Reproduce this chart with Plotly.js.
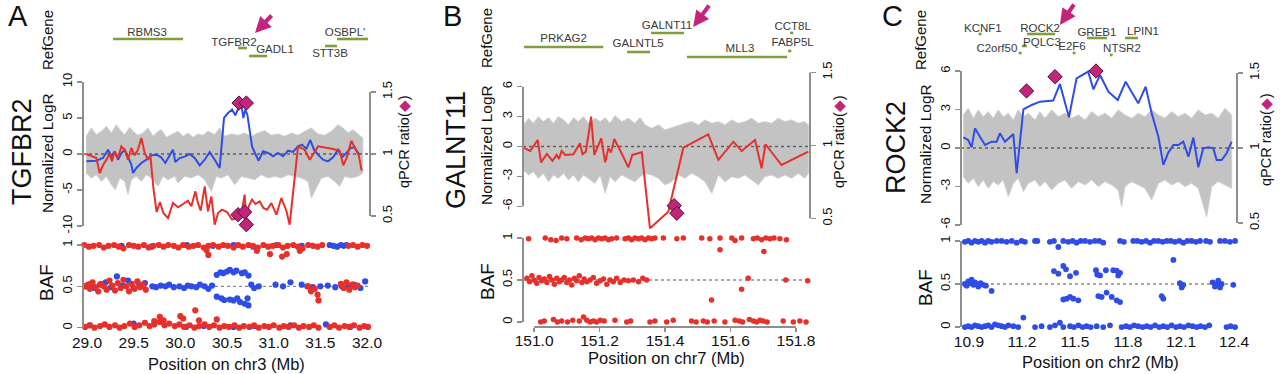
<!DOCTYPE html>
<html><head><meta charset="utf-8">
<script src="https://cdn.plot.ly/plotly-3.0.1.min.js"></script>
<style>html,body{margin:0;padding:0;background:#fff}#chart{width:1280px;height:374px}</style>
</head><body><div id="chart"></div>
<script>
// ===================== PANEL A : TGFBR2, chr3 =====================
const A_geneNames = ['RBMS3','TGFBR2','GADL1',"OSBPL'",'STT3B'];
const A_geneStart = [29.279,30.618,30.736,31.679,31.55];
const A_geneEnd   = [30.029,30.714,30.929,32.011,31.679];
const A_geneRow   = [3.9,4.8,5.6,3.9,4.6];
const A_labelX    = [29.643,30.575,31.014,31.764,31.604];
const A_labelRow  = [3.3,4.3,5.0,3.3,5.4];
const A_xTicks = [29.0,29.5,30.0,30.5,31.0,31.5,32.0];
const A_xTickText = ['29.0','29.5','30.0','30.5','31.0','31.5','32.0'];
const A_logTicks = [-10,-5,0,5,10];
const A_bandUpX = [28.99,29.046,29.1,29.154,29.207,29.261,29.314,29.35,29.404,29.457,29.493,29.546,29.6,29.654,29.707,29.761,29.796,29.85,29.904,29.975,30.029,30.082,30.136,30.189,30.243,30.296,30.368,30.421,30.475,30.546,30.618,30.689,30.761,30.832,30.904,30.975,31.046,31.118,31.189,31.261,31.332,31.404,31.475,31.546,31.618,31.689,31.743,31.796,31.85,31.921,31.955];
const A_bandUpY = [2.45,3.61,2.69,3.15,3.84,2.92,4.07,3.38,2.69,3.7,3.15,2.59,2.92,3.61,2.45,3.15,3.38,2.31,2.69,3.15,2.45,2.92,2.31,2.78,2.59,3.15,2.69,3.61,2.45,2.78,2.59,2.92,2.45,2.92,3.24,2.59,2.78,2.45,2.92,2.59,3.15,3.61,2.78,2.59,3.15,4.07,3.61,2.92,3.38,2.59,2.22];
const A_bandLoX = [28.99,29.046,29.1,29.154,29.207,29.261,29.304,29.35,29.404,29.439,29.475,29.529,29.582,29.636,29.689,29.761,29.814,29.868,29.939,29.975,30.046,30.118,30.189,30.261,30.332,30.386,30.439,30.511,30.582,30.654,30.725,30.796,30.868,30.939,31.011,31.082,31.154,31.225,31.296,31.368,31.404,31.457,31.511,31.582,31.654,31.707,31.761,31.832,31.904,31.955];
const A_bandLoY = [-2.64,-3.33,-2.87,-3.8,-3.1,-4.26,-4.95,-3.33,-3.8,-5.65,-3.56,-3.1,-3.8,-2.87,-3.33,-4.49,-3.1,-3.56,-3.1,-4.03,-3.1,-3.33,-2.87,-3.56,-5.19,-3.1,-3.33,-2.87,-4.26,-3.1,-3.33,-3.56,-2.87,-3.33,-3.1,-3.33,-2.87,-3.1,-3.33,-3.8,-6.11,-4.72,-3.33,-3.1,-3.8,-4.49,-3.1,-3.33,-3.1,-2.64];
const A_blueX = [28.993,29.1,29.171,29.225,29.261,29.296,29.332,29.368,29.404,29.439,29.475,29.493,29.529,29.582,29.636,29.689,29.743,29.796,29.839,29.886,29.921,29.946,29.993,30.046,30.1,30.154,30.207,30.261,30.314,30.368,30.421,30.468,30.511,30.554,30.589,30.625,30.654,30.675,30.696,30.718,30.743,30.768,30.804,30.839,30.886,30.939,30.993,31.046,31.1,31.154,31.207,31.261,31.304,31.35,31.393,31.432,31.482,31.529,31.582,31.636,31.689,31.732,31.779,31.825,31.868,31.921];
const A_blueY = [-1.02,-0.93,-0.56,0.6,-0.32,0.37,-0.79,0.14,0.6,-0.32,-1.48,-2.64,-1.94,-1.25,-0.79,-0.19,-0.09,-0.46,-1.25,-0.19,0.6,-1.11,-0.56,-0.37,0,-0.56,-1.57,-0.79,0.28,-0.79,-1.94,5.0,5.69,6.16,5.37,6.48,6.94,5.0,6.16,5.46,3.15,1.06,0,-0.93,0.37,0.14,-0.32,0.14,-0.32,0.46,0.28,1.06,1.3,0.74,1.94,0.6,-0.19,-0.79,-1.02,-0.46,0.6,-0.46,0.14,0.83,0.93,-0.19];
const A_redX = [28.993,29.046,29.1,29.136,29.171,29.207,29.243,29.268,29.296,29.332,29.368,29.404,29.439,29.475,29.511,29.546,29.582,29.618,29.654,29.679,29.711,29.746,29.782,29.818,29.868,29.921,29.975,30.029,30.082,30.118,30.161,30.189,30.218,30.261,30.296,30.332,30.368,30.404,30.446,30.5,30.554,30.607,30.654,30.689,30.707,30.732,30.768,30.804,30.85,30.889,30.929,30.975,31.029,31.082,31.136,31.171,31.261,31.332,31.386,31.421,31.475,31.636,31.707,31.746,31.782,31.832,31.875,31.911,31.943];
const A_redY = [0,-0.32,-0.56,-2.64,-1.57,-0.79,0,-1.02,0.37,-0.56,1.06,0.6,-0.79,0.83,-0.19,0.6,2.22,0.14,-0.79,-0.19,-4.72,-8.06,-6.67,-8.19,-8.89,-6.81,-7.41,-6.94,-6.48,-7.27,-5.19,-6.81,-7.87,-4.49,-7.96,-5.88,-9.81,-8.19,-7.73,-8.06,-9.12,-8.89,-8.33,-5.65,-8.89,-7.27,-6.34,-6.94,-6.57,-7.5,-7.73,-6.81,-8.43,-6.11,-7.87,-9.81,1.06,0.6,-0.79,-0.09,1.06,0.69,0.46,-1.57,-0.56,1.85,0.6,-0.19,-2.31];
const A_qpcrX = [30.629,30.707,30.618,30.689,30.707];
const A_qpcrY = [1.411,1.411,0.511,0.532,0.43];
// BAF, panel A
const A_bafRedX = [28.97,29.02,29.07,29.13,29.18,29.23,29.29,29.34,29.39,29.45,29.5,29.55,29.61,29.66,29.71,29.77,29.82,29.87,29.93,29.98,30.03,30.09,30.14,30.19,30.25,30.3,30.35,30.41,30.46,30.51,30.57,30.62,30.67,30.73,30.78,30.83,30.89,30.94,30.99,31.05,31.1,31.15,31.21,31.26,31.31,31.37,31.42,31.47,31.52,31.8,31.85,31.9,31.95,32.0,
  30.28,30.3,30.82,30.96,31.09,31.14,31.28,
  28.98,29.01,29.03,29.06,29.09,29.12,29.15,29.18,29.21,29.24,29.27,29.3,29.33,29.36,29.39,29.42,29.45,29.48,29.51,29.54,29.57,29.6,29.63,31.37,31.4,31.44,31.47,31.48,31.72,31.75,31.78,31.81,31.84,31.87,31.9,
  28.98,29.03,29.08,29.14,29.19,29.24,29.3,29.35,29.4,29.46,29.51,29.56,29.62,29.67,29.72,29.78,29.83,29.88,29.94,29.99,30.04,30.1,30.15,30.2,30.26,30.31,30.36,30.42,30.47,30.52,30.58,30.63,30.68,30.74,30.79,30.84,30.9,30.95,31.0,31.06,31.11,31.16,31.22,31.27,31.32,31.38,31.43,31.48,31.6,31.65,31.7,31.76,31.81,31.86,31.92,31.97,32.01,
  29.78,29.82,30.0,30.03,30.16,30.2,30.39,29.72];
const A_bafRedY = [1,.98,.99,1,.97,.99,1,.98,.96,1,.99,.98,1,.97,.99,1,.98,1,.99,.97,1,.98,.99,1,.97,.99,1,.98,1,.99,.97,1,.98,1,.99,.97,1,.98,.99,1,.97,.99,1,.98,.96,1,.99,.98,1,.99,1,.98,1,.99,
  .94,.88,.93,.89,.86,.89,.93,
  .5,.52,.47,.55,.49,.44,.53,.5,.46,.57,.51,.45,.54,.48,.58,.5,.44,.53,.47,.56,.49,.52,.46,.5,.44,.47,.4,.33,.53,.48,.55,.46,.52,.49,.51,
  .01,.03,0,.02,.04,.01,.03,0,.02,.05,.01,.03,.06,.02,.04,.07,.03,.05,.02,.04,.01,.03,0,.02,.04,.01,.03,0,.02,.01,.03,0,.02,.01,.03,0,.02,.01,.03,0,.02,.01,.03,0,.02,.01,.03,0,.01,.03,0,.02,.01,.03,0,.02,.01,
  .13,.09,.14,.11,.21,.09,.1,.08];
const A_bafBlueX = [29.37,29.69,30.07,30.35,30.57,30.78,31.03,31.3,31.6,31.64,31.68,31.72,31.75,31.78,
  28.99,29.04,29.08,29.14,29.2,29.26,29.32,29.38,29.44,29.5,29.56,29.62,29.7,29.74,29.79,29.84,29.88,29.93,29.99,30.04,30.08,30.12,30.17,30.21,30.26,30.3,30.34,30.76,30.79,30.84,31.02,31.1,31.18,31.3,31.36,31.42,31.5,31.58,31.66,31.73,31.8,31.86,31.93,31.98,
  30.39,30.43,30.46,30.5,30.53,30.57,30.6,30.66,30.69,30.73,
  30.39,30.44,30.47,30.53,30.57,30.61,30.64,30.69,30.72,30.73,
  29.03,29.5,30.06,30.25,30.57,30.79,31.18,31.56,31.82];
const A_bafBlueY = [.99,.98,1,.99,1,.98,1,.99,1,.99,.98,1,.99,1,
  .5,.53,.48,.52,.55,.49,.62,.51,.57,.48,.52,.54,.5,.49,.51,.5,.52,.49,.5,.48,.51,.5,.49,.52,.5,.47,.51,.52,.48,.5,.52,.5,.55,.52,.5,.49,.5,.51,.49,.5,.5,.52,.48,.56,
  .64,.67,.66,.68,.7,.67,.69,.66,.67,.63,
  .375,.355,.335,.34,.33,.355,.31,.29,.355,.27,
  .03,.05,.01,.02,.01,.02,.03,.04,.01];

// ===================== PANEL B : GALNT11, chr7 =====================
const B_geneNames = ['PRKAG2','GALNTL5','GALNT11','MLL3','CCT8L','FABP5L'];
const B_geneStart = [150.969,151.284,151.357,151.467,151.782,151.776];
const B_geneEnd   = [151.211,151.354,151.458,151.773,151.792,151.786];
const B_geneRow   = [4.7,5.2,3.3,5.7,3.3,5.1];
const B_labelX    = [151.09,151.318,151.406,151.629,151.79,151.79];
const B_labelRow  = [3.9,4.4,2.6,4.9,2.7,4.3];
const B_xTicks = [151.0,151.2,151.4,151.6,151.8];
const B_xTickText = ['151.0','151.2','151.4','151.6','151.8'];
const B_logTicks = [-6,-3,0,3,6];
const B_bandX = [150.967,150.983,150.998,151.013,151.028,151.044,151.059,151.074,151.09,151.105,151.12,151.135,151.151,151.166,151.186,151.202,151.217,151.232,151.247,151.268,151.288,151.308,151.324,151.339,151.359,151.38,151.4,151.42,151.441,151.461,151.481,151.502,151.522,151.543,151.563,151.583,151.604,151.624,151.644,151.665,151.685,151.705,151.726,151.746,151.766,151.787,151.807,151.827,151.838];
const B_bandUpY = [2.16,2.83,2.32,2.99,2.49,2.89,2.32,2.99,2.66,2.16,2.89,2.49,2.99,2.32,2.83,2.49,2.89,2.32,3.09,2.49,2.83,2.32,2.89,2.16,1.82,2.16,1.66,1.89,2.16,2.32,2.49,2.16,2.66,2.32,2.49,2.16,2.66,2.32,2.49,2.83,2.32,2.49,2.32,2.83,2.49,2.66,2.32,2.49,2.16];
const B_bandLoY = [-2.36,-2.86,-2.53,-3.19,-2.69,-3.53,-2.86,-3.19,-2.69,-3.36,-2.86,-3.53,-2.86,-3.19,-3.7,-2.86,-4.7,-3.03,-3.53,-2.86,-3.19,-3.53,-3.03,-2.69,-2.86,-3.19,-3.86,-3.53,-2.86,-3.19,-2.69,-3.03,-3.53,-4.7,-2.86,-3.53,-3.03,-3.19,-2.86,-3.36,-3.86,-3.03,-2.86,-3.19,-2.86,-3.19,-2.69,-3.19,-2.69];
const B_redX = [150.967,150.988,151.011,151.021,151.039,151.056,151.069,151.076,151.084,151.095,151.12,151.14,151.148,151.158,151.166,151.174,151.184,151.205,151.217,151.227,151.235,151.245,151.263,151.288,151.3,151.329,151.354,151.41,151.456,151.532,151.563,151.609,151.634,151.675,151.695,151.707,151.756,151.838];
const B_redY = [-0.12,-0.45,0.65,-1.59,-0.75,-1.45,-0.85,-1.25,-0.45,-0.85,-0.79,0.32,-0.79,-0.52,1.15,2.99,-0.85,0.82,-1.59,-0.18,-0.59,0.75,-0.4,-2.1,-0.85,-0.59,-8.21,-6.54,-0.12,1.22,-1.35,0.48,-0.45,0.65,-2.19,0.22,-1.86,-0.52];
const B_qpcrX = [151.428,151.436];
const B_qpcrY = [0.588,0.536];
const B_bafRedX = [150.983,151.034,151.051,151.067,151.084,151.1,151.13,151.144,151.156,151.166,151.176,151.186,151.196,151.207,151.217,151.227,151.237,151.252,151.278,151.288,151.298,151.308,151.319,151.329,151.339,151.349,151.359,151.369,151.395,151.436,151.456,151.512,151.537,151.568,151.604,151.614,151.634,151.67,151.682,151.695,151.708,151.721,151.733,151.751,151.771,
  151.568,151.702,151.542,151.634,151.654,151.769,151.836,
  150.978,150.986,150.993,151.0,151.008,151.015,151.023,151.031,151.039,151.047,151.054,151.062,151.069,151.077,151.084,151.092,151.1,151.108,151.115,151.123,151.13,151.138,151.146,151.153,151.161,151.171,151.181,151.191,151.202,151.212,151.222,151.232,151.242,151.252,151.263,151.275,151.288,151.303,151.319,151.332,151.344,
  151.02,151.031,151.059,151.071,151.084,151.102,151.118,151.138,151.151,151.161,151.171,151.181,151.191,151.202,151.214,151.247,151.283,151.295,151.354,151.369,151.405,151.425,151.481,151.495,151.517,151.529,151.55,151.583,151.614,151.627,151.637,151.658,151.67,151.68,151.69,151.7,151.712,151.761,151.792,151.812,151.831];
const B_bafRedY = [.99,1,.98,.97,1,.99,1,.98,1,.99,1,.98,1,.99,1,.98,.99,1,.99,1,.98,1,.99,1,.98,1,.99,1,1,.99,1,1,.99,1,1,.97,1,.99,1,.98,1,.99,1,.99,.98,
  .86,.84,.26,.39,.52,.5,.49,
  .52,.48,.55,.5,.46,.53,.49,.51,.47,.54,.5,.45,.52,.48,.5,.53,.47,.5,.44,.52,.49,.55,.47,.51,.48,.5,.53,.46,.49,.51,.45,.5,.48,.52,.47,.5,.49,.5,.48,.52,.5,
  0,.01,.03,0,.01,0,.02,.01,.06,.02,0,.01,0,.02,.01,.02,0,.01,0,.01,0,.02,.01,0,.01,0,.01,0,.02,.01,0,.03,.01,0,.02,.01,0,.01,0,.01,0];

// ===================== PANEL C : ROCK2, chr2 =====================
const C_geneNames = ['KCNF1','ROCK2','C2orf50','PQLC3','E2F6','GREB1','NTSR2','LPIN1'];
const C_geneStart = [10.955,11.228,11.182,11.2,11.487,11.568,11.697,11.783];
const C_geneEnd   = [10.972,11.387,11.198,11.228,11.503,11.681,11.713,11.856];
const C_geneRow   = [3.4,3.4,5.3,4.6,5.3,3.8,5.5,3.8];
const C_labelX    = [10.979,11.302,11.058,11.313,11.483,11.624,11.766,11.885];
const C_labelRow  = [2.9,2.9,4.9,4.3,4.7,3.3,4.9,3.2];
const C_xTicks = [10.9,11.2,11.5,11.8,12.1,12.4];
const C_xTickText = ['10.9','11.2','11.5','11.8','12.1','12.4'];
const C_logTicks = [-6,-3,0,3,6];
const C_bandUpX = [10.868,10.896,10.925,10.953,10.981,11.009,11.038,11.066,11.094,11.123,11.151,11.179,11.208,11.236,11.274,11.302,11.33,11.368,11.406,11.443,11.481,11.519,11.557,11.594,11.632,11.67,11.708,11.745,11.783,11.821,11.858,11.896,11.934,11.972,12.009,12.047,12.085,12.123,12.16,12.198,12.236,12.274,12.311,12.349,12.387];
const C_bandUpY = [2.57,3.09,2.31,2.96,2.44,2.83,2.31,2.96,2.44,2.7,2.18,2.96,2.44,2.7,2.18,2.83,2.31,2.96,2.44,2.7,2.31,2.57,2.18,2.83,2.44,2.7,2.31,2.96,2.57,2.31,2.7,2.44,2.96,2.57,2.31,2.83,2.44,2.7,2.31,2.96,2.57,2.7,2.31,3.09,2.57];
const C_bandLoX = [10.868,10.896,10.925,10.953,10.981,11.009,11.038,11.066,11.094,11.123,11.151,11.179,11.208,11.236,11.274,11.302,11.33,11.368,11.406,11.443,11.481,11.519,11.557,11.594,11.632,11.67,11.708,11.745,11.764,11.783,11.821,11.858,11.896,11.934,11.972,12.009,12.047,12.085,12.123,12.16,12.198,12.245,12.274,12.311,12.349,12.387];
const C_bandLoY = [-2.23,-2.75,-2.36,-3.01,-2.49,-3.14,-2.62,-2.88,-2.49,-3.79,-2.75,-2.36,-3.4,-2.75,-2.49,-3.01,-2.62,-3.27,-2.75,-2.49,-3.14,-2.62,-2.88,-2.49,-3.01,-2.62,-2.88,-3.27,-4.57,-3.01,-2.62,-2.88,-3.14,-4.05,-2.75,-2.49,-2.88,-2.62,-3.01,-2.75,-3.14,-5.35,-3.01,-2.62,-2.88,-3.14];
const C_blueX = [10.868,10.896,10.915,10.934,10.962,10.991,11.028,11.057,11.075,11.104,11.151,11.17,11.208,11.255,11.302,11.377,11.415,11.466,11.509,11.575,11.604,11.642,11.689,11.742,11.787,11.858,11.9,11.934,11.972,12.0,12.028,12.057,12.085,12.113,12.142,12.17,12.198,12.226,12.255,12.283,12.302,12.33,12.358,12.387];
const C_blueY = [0.83,0.62,0.05,1.53,0.88,0.23,0.49,0.49,1.14,0.49,1.09,-1.97,3.01,3.35,3.61,3.69,4.99,2.39,5.43,5.95,4.57,5.69,4.39,3.74,5.17,3.48,4.78,2.7,0.88,-1.32,-0.36,0.23,0.23,0.49,-0.68,0.81,-1.51,-0.03,0.05,-0.03,-0.94,-0.94,-0.42,0.49];
const C_qpcrX = [11.226,11.387,11.619];
const C_qpcrY = [1.38,1.475,1.513];
const C_bafBlueX = [10.877,10.896,10.915,10.934,10.953,10.972,10.991,11.009,11.028,11.057,11.085,11.113,11.142,11.17,11.198,11.217,11.274,11.287,11.358,11.381,11.406,11.434,11.462,11.487,11.509,11.532,11.557,11.585,11.613,11.638,11.66,11.755,11.777,11.83,11.853,11.877,11.902,11.925,11.947,11.972,11.996,12.019,12.042,12.066,12.091,12.113,12.136,12.16,12.185,12.208,12.242,12.264,12.321,12.349,12.377,12.406,
  10.877,10.887,10.896,10.906,10.915,10.925,10.934,10.944,10.953,10.966,10.981,10.996,11.028,
  11.381,11.406,11.434,11.449,11.472,11.506,11.619,11.626,11.642,11.675,11.717,11.736,11.755,11.745,11.434,11.453,11.472,11.491,11.519,11.632,11.651,11.679,11.708,11.736,11.755,11.991,12.0,
  12.057,12.094,12.104,12.113,12.279,12.292,12.302,12.311,12.321,12.33,12.396,
  10.877,10.896,10.915,10.934,10.953,10.972,10.991,11.009,11.028,11.047,11.066,11.085,11.104,11.123,11.151,11.179,11.208,11.274,11.311,11.358,11.387,11.415,11.434,11.472,11.494,11.519,11.543,11.566,11.589,11.623,11.66,11.698,11.764,11.789,11.811,11.834,11.858,11.883,11.906,11.928,11.953,11.977,12.0,12.023,12.047,12.072,12.094,12.117,12.142,12.166,12.189,12.211,12.236,12.26,12.358,12.381,12.406];
const C_bafBlueY = [.99,1,.98,1,.99,1,.98,1,.99,1,1,.99,1,.98,1,.99,1,1,.99,1,.93,1,.99,1,.98,1,1,.99,1,1,.98,1,.99,1,1,.99,1,.98,1,1,.99,1,1,.99,1,.98,1,1,.99,1,1,.99,1,1,.99,1,
  .5,.48,.53,.51,.55,.49,.52,.5,.47,.51,.49,.48,.42,
  .65,.62,.71,.67,.59,.63,.66,.61,.6,.66,.66,.655,.63,.6,.32,.33,.35,.33,.31,.36,.35,.4,.35,.31,.29,.36,.33,
  .78,.51,.46,.49,.52,.47,.5,.54,.46,.5,.49,
  0,.01,0,.02,.01,0,.01,.02,0,.03,.02,.01,0,.02,.01,0,.11,0,.01,0,.02,.05,0,.01,0,.02,0,.01,0,.01,0,.02,0,.01,0,.02,.01,0,.01,0,.02,0,.01,0,.02,0,.01,0,.02,.01,0,.01,0,.02,0,.01,0];

// shared ticks
const BAF_TICKS = [0,0.5,1];
const BAF_TICKTEXT = ['0','0.5','1'];
const QPCR_TICKS = [0.5,1,1.5];
const QPCR_TICKTEXT = ['0.5','1','1.5'];

// ===================== layout helpers =====================
const W = 1280, H = 374;
const FONT = 'Liberation Sans, Arial, Helvetica, sans-serif';
const AX = '#8e8e8e';
const RED = '#e8302a', BLUE = '#2f4de6', MAG = '#c4257a', GREEN = '#7f9f3c';
const xp = px => px / W;
const yp = px => 1 - px / H;

const PANELS = [
  {letter:'A', title:'TGFBR2', chr:'chr3',
   genes:[A_geneNames,A_geneStart,A_geneEnd,A_geneRow,A_labelX,A_labelRow],
   xTicks:A_xTicks, xTickText:A_xTickText, logTicks:A_logTicks,
   bandUp:[A_bandUpX,A_bandUpY], bandLo:[A_bandLoX,A_bandLoY],
   lines:[[A_blueX,A_blueY,BLUE],[A_redX,A_redY,RED]], qpcr:[A_qpcrX,A_qpcrY],
   baf:[[A_bafBlueX,A_bafBlueY,BLUE],[A_bafRedX,A_bafRedY,RED]], bafSize:6.2,
   xPx:[83,370], xRange:[28.957,32.032], logPx:[76,232], logRange:[-10.83,10.83], qRange:[0.371,1.629],
   bafPx:[236,334], bafRange:[-0.076,1.109], xLine:false, xStandoff:-3,
   pos:{letter:[6,16], title:[22,152], ref:[48,40], log:[47,153], baf:[46,283], q:[404,142], xt:[226,364]},
   arrow:{tip:[30.80,3.3], off:[18,-19]}},
  {letter:'B', title:'GALNT11', chr:'chr7',
   genes:[B_geneNames,B_geneStart,B_geneEnd,B_geneRow,B_labelX,B_labelRow],
   xTicks:B_xTicks, xTickText:B_xTickText, logTicks:B_logTicks,
   bandUp:[B_bandX,B_bandUpY], bandLo:[B_bandX,B_bandLoY],
   lines:[[B_redX,B_redY,RED]], qpcr:[B_qpcrX,B_qpcrY],
   baf:[[B_bafRedX,B_bafRedY,RED]], bafSize:5.5,
   xPx:[523,810], xRange:[150.966,151.843], logPx:[66,232], logRange:[-8.58,8.07], qRange:[0.4075,1.5445],
   bafPx:[232,327], bafRange:[-0.06,1.071], xLine:true, xStandoff:-5,
   pos:{letter:[441,16], title:[456,150], ref:[487,38], log:[486,145], baf:[487,282], q:[839,142], xt:[666,358]},
   arrow:{tip:[151.486,2.7], off:[17,-23]}},
  {letter:'C', title:'ROCK2', chr:'chr2',
   genes:[C_geneNames,C_geneStart,C_geneEnd,C_geneRow,C_labelX,C_labelRow],
   xTicks:C_xTicks, xTickText:C_xTickText, logTicks:C_logTicks,
   bandUp:[C_bandUpX,C_bandUpY], bandLo:[C_bandLoX,C_bandLoY],
   lines:[[C_blueX,C_blueY,BLUE]], qpcr:[C_qpcrX,C_qpcrY],
   baf:[[C_bafBlueX,C_bafBlueY,BLUE]], bafSize:5.8,
   xPx:[961,1237], xRange:[10.855,12.417], logPx:[62,232], logRange:[-6.55,6.70], qRange:[0.44,1.573],
   bafPx:[234,334], bafRange:[-0.081,1.081], xLine:false, xStandoff:-4,
   pos:{letter:[880,16], title:[896,148], ref:[921,40], log:[925,144], baf:[925,288], q:[1266,140], xt:[1100,362]},
   arrow:{tip:[11.415,2.5], off:[15,-22]}}
];

const traces = [], shapes = [], annotations = [];
const layout = {width:W, height:H, margin:{l:0,r:0,t:0,b:0}, paper_bgcolor:'#fff', plot_bgcolor:'rgba(0,0,0,0)',
  showlegend:false, font:{family:FONT, color:'#111'}};
const axName = (t,n) => n===1 ? t+'axis' : t+'axis'+n;
const axRef = (t,n) => n===1 ? t : t+n;

function txt(s, xy, size, angle, extra){
  annotations.push(Object.assign({text:s, xref:'paper', yref:'paper', x:xp(xy[0]), y:yp(xy[1]),
    xanchor:'center', yanchor:'middle', showarrow:false, textangle:angle||0,
    font:{family:FONT, size:size, color:'#111'}}, extra||{}));
}

PANELS.forEach((p, i) => {
  const gx = 3*i+1, lx = 3*i+2, bx = 3*i+3;
  const gy = 4*i+1, ly = 4*i+2, qy = 4*i+3, by = 4*i+4;
  const xdom = [xp(p.xPx[0]), xp(p.xPx[1])];
  const hidden = {visible:false, showgrid:false, zeroline:false, fixedrange:true};
  layout[axName('x',gx)] = Object.assign({domain:xdom, range:p.xRange, anchor:axRef('y',gy)}, hidden);
  layout[axName('y',gy)] = Object.assign({domain:[yp(72), yp(0)], range:[7.2,0], anchor:axRef('x',gx)}, hidden);
  layout[axName('x',lx)] = Object.assign({domain:xdom, range:p.xRange, anchor:axRef('y',ly)}, hidden);
  const tickStyle = {ticks:'outside', ticklen:5, tickwidth:1.5, tickcolor:AX, showline:false, showgrid:false,
    zeroline:false, tickangle:-90, tickfont:{family:FONT, size:13, color:'#111'}, fixedrange:true};
  layout[axName('y',ly)] = Object.assign({domain:[yp(p.logPx[1]), yp(p.logPx[0])], range:p.logRange,
    anchor:axRef('x',lx), tickmode:'array', tickvals:p.logTicks, ticktext:p.logTicks.map(String)}, tickStyle);
  layout[axName('y',qy)] = Object.assign({overlaying:axRef('y',ly), side:'right', range:p.qRange,
    anchor:axRef('x',lx), tickmode:'array', tickvals:QPCR_TICKS, ticktext:QPCR_TICKTEXT}, tickStyle);
  layout[axName('x',bx)] = {domain:xdom, range:p.xRange, anchor:axRef('y',by), tickmode:'array',
    tickvals:p.xTicks, ticktext:p.xTickText, ticks:p.xLine?'outside':'', ticklen:4, tickwidth:1.5, tickcolor:AX,
    ticklabelstandoff:p.xStandoff,
    showline:false, showgrid:false, zeroline:false, fixedrange:true, tickfont:{family:FONT, size:15.5, color:'#111'}};
  layout[axName('y',by)] = Object.assign({domain:[yp(p.bafPx[1]), yp(p.bafPx[0])], range:p.bafRange,
    anchor:axRef('x',bx), tickmode:'array', tickvals:BAF_TICKS, ticktext:BAF_TICKTEXT}, tickStyle);

  const X = n => axRef('x',n), Y = n => axRef('y',n);
  traces.push({type:'scatter', mode:'lines', xaxis:X(lx), yaxis:Y(ly), hoverinfo:'skip',
    x:p.bandUp[0].concat(p.bandLo[0].slice().reverse()), y:p.bandUp[1].concat(p.bandLo[1].slice().reverse()),
    fill:'toself', fillcolor:'#c3c3c3', line:{color:'#d0d0d0', width:1}});
  traces.push({type:'scatter', mode:'lines', xaxis:X(lx), yaxis:Y(ly), x:p.xRange, y:[0,0], hoverinfo:'skip',
    line:{color:'#606060', width:1.6, dash:'dot'}});
  p.lines.forEach(l => traces.push({type:'scatter', mode:'lines', xaxis:X(lx), yaxis:Y(ly), x:l[0], y:l[1],
    line:{color:l[2], width:2}}));
  traces.push({type:'scatter', mode:'markers', xaxis:X(lx), yaxis:Y(qy), x:p.qpcr[0], y:p.qpcr[1], cliponaxis:false,
    marker:{symbol:'diamond', size:11, color:MAG, line:{color:'#4a1030', width:1}}});
  const [gn, gs, ge, gr, glx, glr] = p.genes;
  const lxs = [], lys = [];
  gn.forEach((g, k) => { lxs.push(gs[k], ge[k], null); lys.push(gr[k], gr[k], null); });
  traces.push({type:'scatter', mode:'lines', xaxis:X(gx), yaxis:Y(gy), x:lxs, y:lys, cliponaxis:false,
    line:{color:GREEN, width:2.6}});
  traces.push({type:'scatter', mode:'text', xaxis:X(gx), yaxis:Y(gy), x:glx, y:glr, text:gn, cliponaxis:false,
    textposition:'middle center', textfont:{family:FONT, size:11.5, color:'#3a3a3a'}});
  traces.push({type:'scatter', mode:'lines', xaxis:X(bx), yaxis:Y(by), x:p.xRange, y:[0.5,0.5], hoverinfo:'skip',
    line:{color:'#8a8a8a', width:1.4, dash:'dot'}});
  p.baf.forEach(b => traces.push({type:'scatter', mode:'markers', xaxis:X(bx), yaxis:Y(by), x:b[0], y:b[1],
    cliponaxis:false, marker:{size:p.bafSize, color:b[2], line:{width:0}}}));

  const L = {color:AX, width:2};
  shapes.push({type:'line', xref:X(lx)+' domain', yref:Y(ly), x0:0, x1:0,
    y0:p.logTicks[0], y1:p.logTicks[p.logTicks.length-1], line:L});
  shapes.push({type:'line', xref:X(lx)+' domain', yref:Y(qy), x0:1, x1:1,
    y0:QPCR_TICKS[0], y1:QPCR_TICKS[QPCR_TICKS.length-1], line:L});
  shapes.push({type:'line', xref:X(bx)+' domain', yref:Y(by), x0:0, x1:0,
    y0:BAF_TICKS[0], y1:BAF_TICKS[BAF_TICKS.length-1], line:L});
  if (p.xLine) shapes.push({type:'line', xref:X(bx), yref:Y(by)+' domain', y0:0, y1:0,
    x0:p.xTicks[0], x1:p.xTicks[p.xTicks.length-1], line:L});

  annotations.push({xref:X(gx), yref:Y(gy), x:p.arrow.tip[0], y:p.arrow.tip[1], ax:p.arrow.off[0], ay:p.arrow.off[1],
    text:'', showarrow:true, arrowhead:2, arrowsize:0.8, arrowwidth:4, arrowcolor:MAG, standoff:0});

  txt(p.letter, p.pos.letter, 29, 0, {xanchor:'left'});
  txt(p.title, p.pos.title, 27, -90);
  txt('RefGene', p.pos.ref, 15, -90);
  txt('Normalized LogR', p.pos.log, 15.5, -90);
  txt('BAF', p.pos.baf, 19, -90);
  txt('qPCR ratio(<span style="color:'+MAG+'">◆</span>)', p.pos.q, 14.5, -90);
  txt('Position on '+p.chr+' (Mb)', p.pos.xt, 16.5, 0);
});
layout.shapes = shapes;
layout.annotations = annotations;
Plotly.newPlot('chart', traces, layout, {staticPlot:true, displayModeBar:false});
</script></body></html>
